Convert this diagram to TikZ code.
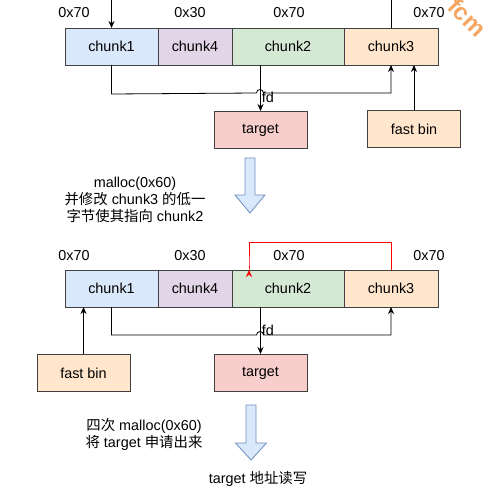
\documentclass[tikz,border=0pt]{standalone}
\usepackage{fontspec}
\setmainfont{Liberation Sans}
\newfontfamily\cjk{Noto Sans CJK SC}
\usepackage{xcolor}
\usetikzlibrary{arrows.meta,positioning,calc}

\definecolor{cblue}{HTML}{DAE8FC}
\definecolor{cpurple}{HTML}{E1D5E7}
\definecolor{cgreen}{HTML}{D5E8D4}
\definecolor{corange}{HTML}{FFE6CC}
\definecolor{cred}{HTML}{F8CECC}
\definecolor{bigblue}{HTML}{6C8EBF}
\definecolor{wmark}{HTML}{F5A662}

\begin{document}
\begin{tikzpicture}[
        x=1pt, y=1pt,
        font=\fontsize{14.4}{17}\selectfont,
        chunk/.style={
            rectangle, draw=black!75, line width=0.8pt,
            minimum height=37pt, inner sep=0pt, outer sep=0pt
        },
        box/.style={
            rectangle, draw=black!75, line width=0.8pt,
            minimum width=93pt, minimum height=37pt, inner sep=0pt
        },
        size/.style={inner sep=0pt},
        note/.style={align=center, inner sep=0pt},
        arrow/.style={-{Stealth[length=7pt,width=6pt]}, line width=0.8pt},
        bigarrow/.style={fill=cblue, draw=bigblue, line width=0.8pt, line join=miter}
    ]
    \useasboundingbox (0,0) rectangle (490,-497);

    % watermark
    \node[font=\fontsize{24}{24}\bfseries\selectfont, text=wmark, rotate=-45, inner sep=0pt, anchor=west] (wm) at (452,-2) {fcm};

    % ---------- before ----------
    \node[size] (s1a) at (74,-13) {0x70};
    \node[size] (s4a) at (190,-13) {0x30};
    \node[size] (s2a) at (289,-13) {0x70};
    \node[size] (s3a) at (429,-13) {0x70};

    \node[chunk, fill=cblue, minimum width=93pt, anchor=north west] (chunk1a) at (65,-28) {chunk1};
    \node[chunk, fill=cpurple, minimum width=74pt, right=0pt of chunk1a] (chunk4a) {chunk4};
    \node[chunk, fill=cgreen, minimum width=112pt, right=0pt of chunk4a] (chunk2a) {chunk2};
    \node[chunk, fill=corange, minimum width=94pt, right=0pt of chunk2a] (chunk3a) {chunk3};

    \node[box, fill=cred, anchor=north] (targeta) at (260.5,-111) {target};
    \node[box, fill=corange, anchor=north] (fastbina) at (414,-110) {fast bin};

    \coordinate (topa) at (chunk1a.north |- 0,2);
    \coordinate (topc) at (chunk3a.north |- 0,2);
    \draw[arrow] (topa) -- (chunk1a.north);
    \draw[line width=0.8pt] (chunk3a.north) -- (topc);

    \draw[arrow] (chunk1a.south) -- ++(0,-29) -- (256.5,-93)
        arc[start angle=180, end angle=0, radius=3.5] -| (chunk3a.south);
    \draw[arrow] (chunk2a.south -| targeta.north) -- (targeta.north)
        node[pos=0.7, right=1pt, inner sep=0pt] {fd};
    \draw[arrow] (fastbina.north) -- (chunk3a.south -| fastbina.north);

    % step 1
    \draw[bigarrow] (245,-158) -- (255,-158) -- (255,-195) -- (265,-195)
        -- (250,-213) -- (235,-195) -- (245,-195) -- cycle;
    \node[note] (step1) at (135,-200) {malloc(0x60)\\{\cjk 并修改} chunk3 {\cjk 的低一}\\{\cjk 字节使其指向} chunk2};

    % ---------- after ----------
    \node[size] (s1b) at (74,-256) {0x70};
    \node[size] (s4b) at (190,-256) {0x30};
    \node[size] (s2b) at (289,-256) {0x70};
    \node[size] (s3b) at (429,-256) {0x70};

    \node[chunk, fill=cblue, minimum width=93pt, anchor=north west] (chunk1b) at (65,-270) {chunk1};
    \node[chunk, fill=cpurple, minimum width=74pt, right=0pt of chunk1b] (chunk4b) {chunk4};
    \node[chunk, fill=cgreen, minimum width=112pt, right=0pt of chunk4b] (chunk2b) {chunk2};
    \node[chunk, fill=corange, minimum width=94pt, right=0pt of chunk2b] (chunk3b) {chunk3};

    \node[box, fill=corange, anchor=north] (fastbinb) at (83.5,-354) {fast bin};
    \node[box, fill=cred, anchor=north] (targetb) at (260.5,-354) {target};

    % fake fd of chunk3
    \coordinate (hop) at ([xshift=17pt]chunk2b.north west);
    \draw[arrow, red] (chunk3b.north) -- ++(0,28) -| (hop) -- (hop |- chunk2b.north);

    \draw[arrow] (chunk1b.south) -- ++(0,-28) -- (256.5,-335)
        arc[start angle=180, end angle=0, radius=3.5] -| (chunk3b.south);
    \draw[arrow] (chunk2b.south -| targetb.north) -- (targetb.north)
        node[pos=0.5, right=1pt, inner sep=0pt] {fd};
    \draw[arrow] (fastbinb.north) -- (chunk1b.south -| fastbinb.north);

    % step 2
    \draw[bigarrow] (246,-405) -- (256,-405) -- (256,-443) -- (266.5,-443)
        -- (251,-460) -- (235.5,-443) -- (246,-443) -- cycle;
    \node[note] (step2) at (144,-434) {{\cjk 四次} malloc(0x60)\\{\cjk 将} target {\cjk 申请出来}};

    \node[note] (rw) at (258,-479) {target {\cjk 地址读写}};
\end{tikzpicture}
\end{document}
